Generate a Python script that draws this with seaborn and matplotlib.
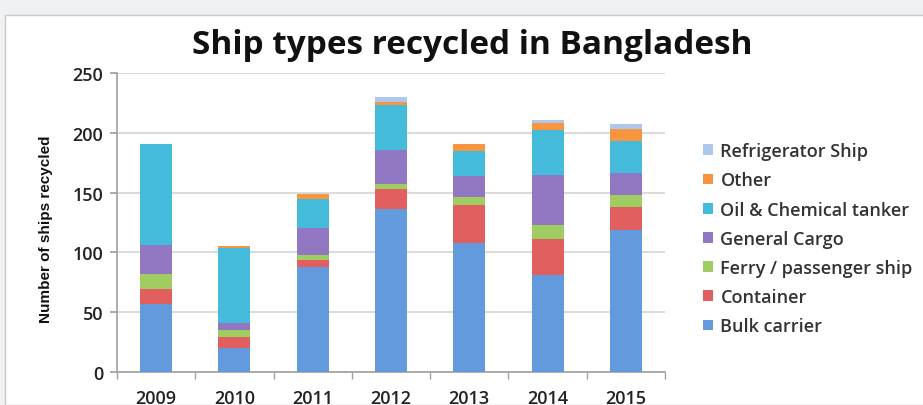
import matplotlib
matplotlib.use("Agg")
import matplotlib.pyplot as plt
from matplotlib.patches import Rectangle, Patch
import seaborn as sns
import numpy as np
import pandas as pd

years = ["2009", "2010", "2011", "2012", "2013", "2014", "2015"]
bulk_carrier = [57, 20, 88, 136, 108, 81, 119]
container = [12, 9, 6, 17, 32, 30, 19]
ferry_passenger = [13, 6, 4, 4, 6, 12, 10]
general_cargo = [24, 6, 22, 29, 18, 42, 18]
oil_chemical = [85, 63, 25, 37, 21, 37, 27]
other = [0, 1, 3.5, 3, 6, 6, 10]
refrigerator = [0, 0, 0, 4, 0, 3, 4]

series_names = ["Bulk carrier", "Container", "Ferry / passenger ship",
                "General Cargo", "Oil & Chemical tanker", "Other",
                "Refrigerator Ship"]
series_values = [bulk_carrier, container, ferry_passenger, general_cargo,
                 oil_chemical, other, refrigerator]
colors = ["#639ade", "#e25f5f", "#9fcd62", "#9176c2", "#45bbdb", "#f7963f", "#adc8ec"]

sns.set_theme(style="white")
plt.rcParams['font.family'] = ['Open Sans', 'DejaVu Sans']

fig = plt.figure(figsize=(9.23, 4.06), dpi=100)
fig.patch.set_facecolor("#f0f1f3")
fig.patches.append(Rectangle((5 / 923, 0), 1, 1 - 16 / 406, transform=fig.transFigure,
                             facecolor="white", edgecolor="#c8c8c8", linewidth=1, zorder=-5))

ax = fig.add_axes([117 / 923, 33 / 406, 548 / 923, 299 / 406])
ax.set_zorder(2)
ax.set_facecolor("none")

cum = np.cumsum(np.array(series_values, dtype=float), axis=0)
for i in range(len(series_names) - 1, -1, -1):
    df = pd.DataFrame({"year": years, "value": cum[i]})
    sns.barplot(data=df, x="year", y="value", color=colors[i], width=0.41,
                saturation=1, ax=ax, linewidth=0, zorder=3)

ax.set_xlim(-0.5, 6.5)
ax.set_ylim(0, 250)
ax.set_yticks(range(0, 251, 50))
ax.yaxis.grid(True, color="#d4d4d4", linewidth=1.2, zorder=0)
ax.set_axisbelow(True)
for s in ["top", "right"]:
    ax.spines[s].set_visible(False)
for s in ["left", "bottom"]:
    ax.spines[s].set_color("#a0a0a0")
    ax.spines[s].set_linewidth(1.2)
ax.set_xticks(np.arange(-0.5, 7, 1), minor=True)
ax.tick_params(axis="x", which="major", length=0, labelsize=13, colors="#222222", pad=12)
ax.tick_params(axis="x", which="minor", length=5, color="#a0a0a0", direction="out", bottom=True)
ax.tick_params(axis="y", which="major", length=5, color="#a0a0a0", direction="out", left=True,
               labelsize=13, colors="#222222", pad=5)
for lab in ax.get_xticklabels() + ax.get_yticklabels():
    lab.set_fontweight("semibold")
ax.set_xlabel("")
ax.set_ylabel("")

fig.text(0.512, 1 - 45 / 406, "Ship types recycled in Bangladesh", ha="center", va="center",
         fontsize=24, fontweight="bold", color="#111111")
fig.text(46 / 923, 1 - 229 / 406, "Number of ships recycled", rotation=90, ha="center", va="center",
         fontsize=11, fontweight="bold", color="#111111",
         family=["Liberation Sans Narrow", "Liberation Sans", "DejaVu Sans"])

handles = [Patch(facecolor=colors[i], edgecolor="none") for i in range(len(series_names) - 1, -1, -1)]
labels = [series_names[i] for i in range(len(series_names) - 1, -1, -1)]
leg = fig.legend(handles, labels, loc="upper left", bbox_to_anchor=(696 / 923, 1 - 136 / 406),
                 frameon=False, fontsize=13, handlelength=0.55, handleheight=0.55,
                 handletextpad=0.4, labelspacing=0.62, borderaxespad=0)
for t in leg.get_texts():
    t.set_color("#333333")
    t.set_fontweight("semibold")

fig.savefig("out.png", dpi=100, facecolor=fig.get_facecolor())
